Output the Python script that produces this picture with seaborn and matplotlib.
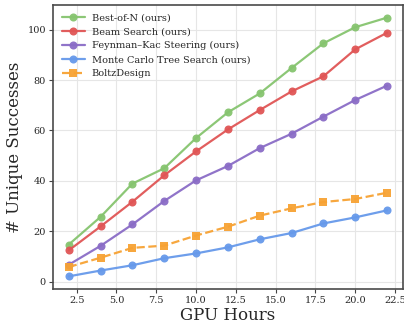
import matplotlib
matplotlib.use("Agg")
import matplotlib.pyplot as plt
import seaborn as sns
import pandas as pd

gpu_hours = [2, 4, 6, 8, 10, 12, 14, 16, 18, 20, 22]
best_of_n = [14.7, 25.7, 38.9, 45.0, 57.0, 67.2, 74.7, 84.8, 94.6, 101.0, 104.8]
beam_search = [12.4, 21.9, 31.7, 42.2, 51.7, 60.4, 68.1, 75.5, 81.5, 92.2, 98.8]
feynman_kac = [6.7, 14.2, 22.7, 32.0, 40.2, 45.9, 53.0, 58.7, 65.5, 72.1, 77.8]
mcts = [2.1, 4.4, 6.5, 9.3, 11.2, 13.6, 16.8, 19.3, 23.1, 25.5, 28.3]
boltzdesign = [5.8, 9.5, 13.4, 14.3, 18.3, 21.8, 26.2, 29.1, 31.6, 32.8, 35.3]
x_tick_labels = ["2.5", "5.0", "7.5", "10.0", "12.5", "15.0", "17.5", "20.0", "22.5"]
y_ticks = [0, 20, 40, 60, 80, 100]

series = {
    "Best-of-N (ours)": best_of_n,
    "Beam Search (ours)": beam_search,
    "Feynman\u2013Kac Steering (ours)": feynman_kac,
    "Monte Carlo Tree Search (ours)": mcts,
    "BoltzDesign": boltzdesign,
}
colors = ["#86c46f", "#e05555", "#8a6cc6", "#6699ea", "#f7a233"]

rows = []
for name, vals in series.items():
    for x, v in zip(gpu_hours, vals):
        rows.append({"method": name, "GPU Hours": x, "successes": v})
df = pd.DataFrame(rows)

sns.set_theme(style="whitegrid")
plt.rcParams["font.family"] = ["DejaVu Serif"]

fig = plt.figure(figsize=(4.04, 3.21), dpi=100)
ax = fig.add_axes([0.1307, 0.0988, 0.8668, 0.8866])

for (name, vals), c in zip(series.items(), colors):
    sub = df[df["method"] == name]
    dashed = name == "BoltzDesign"
    sns.lineplot(data=sub, x="GPU Hours", y="successes", ax=ax, color=c,
                 marker="s" if dashed else "o", markersize=5.8,
                 markeredgewidth=0, linewidth=1.6,
                 linestyle="--" if dashed else "-", label=name, alpha=0.95)

ax.set_xlabel("GPU Hours", fontsize=12, labelpad=1)
ax.set_ylabel("# Unique Successes", fontsize=12, labelpad=3)
ax.set_xticks([float(t) for t in x_tick_labels])
ax.set_xticklabels(x_tick_labels)
ax.set_yticks(y_ticks)
ax.tick_params(axis="both", labelsize=7, length=3, width=0.8, color="#444444",
               left=True, bottom=True, pad=2)
ax.grid(True, color="#e6e6e6", linewidth=0.8)
for s in ax.spines.values():
    s.set_color("#4a4a4a")
    s.set_linewidth(1.2)
ax.set_xlim(1, 23)
ax.margins(y=0.05)
leg = ax.legend(loc="upper left", frameon=False, fontsize=7, handlelength=2.4,
                handletextpad=0.7, labelspacing=0.5, borderaxespad=0.5)

fig.savefig("out.png", dpi=100)
